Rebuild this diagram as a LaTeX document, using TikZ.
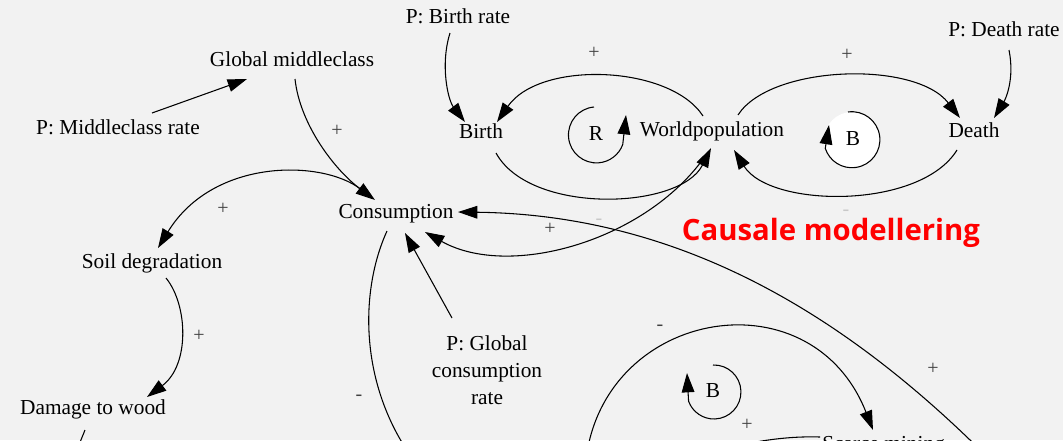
\documentclass[tikz,border=0pt]{standalone}
\usepackage{fontspec}
\setmainfont{Liberation Serif}
\newfontfamily\titlefont{Open Sans}
\usetikzlibrary{arrows.meta,calc}
\definecolor{bg}{HTML}{F2F2F2}
\definecolor{lbl}{HTML}{404040}
\definecolor{faint}{HTML}{C8C8C8}
\begin{document}
\begin{tikzpicture}[x=0.75pt,y=-0.75pt,
  lab/.style={font=\fontsize{16}{19}\selectfont, inner sep=1pt, text height=10.5pt, text depth=3pt},
  multilab/.style={font=\fontsize{16}{20.25}\selectfont, inner sep=1pt, align=center},
  conn/.style={line width=0.8pt, -{Triangle[length=14.5pt,width=9.5pt]}},
  plainline/.style={line width=0.8pt},
  sign/.style={text=lbl, font=\fontsize{15}{17}\selectfont, inner sep=0pt},
  faintsign/.style={text=faint, font=\fontsize{15}{17}\selectfont, inner sep=0pt}]
\useasboundingbox (0,0) rectangle (1063,440);
\clip (0,0) rectangle (1063,440);
\fill[bg] (0,0) rectangle (1063,440);

% nodes
\node[lab] (pbr) at (458,18) {P: Birth rate};
\node[lab] (gm) at (292,61) {Global middleclass};
\node[lab] (pmr) at (118,129) {P: Middleclass rate};
\node[lab] (birth) at (481,133) {Birth};
\node[lab] (wp) at (712,131) {Worldpopulation};
\node[lab] (death) at (974,132) {Death};
\node[lab] (pdr) at (1004,31) {P: Death rate};
\node[lab] (cons) at (396,213) {Consumption};
\node[lab] (soil) at (152,263) {Soil degradation};
\node[lab] (dmg) at (93,409) {Damage to wood};
\node[multilab] (pgc) at (487,370) {P: Global\\consumption\\rate};
\node[lab, anchor=base west, inner sep=0pt] (scar) at (822,450) {Scarce mining};
\node[font=\titlefont\bfseries\fontsize{22}{26}\selectfont, text=red, anchor=base, inner sep=0pt] (title) at (831,240) {Causale modellering};

% loop markers
\fill[white] (852,140) circle[radius=21pt];
\node[lab] (rl) at (596,135) {R};
\node[lab] (bl1) at (853,140) {B};
\node[lab] (bl2) at (713,392) {B};

\coordinate (dmgout) at (72,462);
\coordinate (consout) at (415,462);
\coordinate (longin) at (1005,475);
\coordinate (arcin) at (585,470);
\coordinate (scarout) at (700,456);

% connectors
\draw[conn] ($(pmr)+(34,-16)$) -- ($(gm)+(-45,18)$);
\draw[conn] ($(gm)+(3,18)$) .. controls (300,125) and (335,170) .. ($(cons)+(-21,-13)$);
\draw[conn] ($(cons)+(-32,-21)$) .. controls (330,160) and (215,155) .. ($(soil)+(6,-15)$);
\draw[conn] ($(soil)+(14,15)$) .. controls (188,305) and (190,365) .. ($(dmg)+(54,-12)$);
\draw[plainline] ($(dmg)+(-8,21)$) -- (dmgout);
\draw[conn] ($(pbr)+(-8,15)$) .. controls (440,65) and (448,100) .. ($(birth)+(-16,-11)$);
\draw[conn] ($(wp)+(-9,-15)$) .. controls (670,65) and (540,60) .. ($(birth)+(16,-11)$);
\draw[conn] ($(birth)+(15,20)$) .. controls (530,215) and (680,210) .. ($(wp)+(-1,17)$);
\draw[conn] ($(wp)+(26,-16)$) .. controls (770,65) and (915,60) .. ($(death)+(-14,-14)$);
\draw[conn] ($(pdr)+(5,19)$) .. controls (1015,80) and (1005,100) .. ($(death)+(20,-14)$);
\draw[conn] ($(death)+(-17,18)$) .. controls (920,210) and (770,208) .. ($(wp)+(22,19)$);
\draw[conn] ($(wp)+(-4,21)$) .. controls (650,240) and (510,280) .. ($(cons)+(29,19)$);
\draw[conn] (longin) .. controls (870,335) and (700,215) .. ($(cons)+(62,-1)$);
\draw[conn] ($(pgc)+(-35,-52)$) -- ($(cons)+(9,20)$);
\draw[plainline] ($(cons)+(-9,18)$) .. controls (360,290) and (358,385) .. (consout);
\draw[conn] (arcin) .. controls (595,310) and (810,270) .. ($(scar.base west)+(51,-20)$);
\draw[plainline] ($(scar.base west)+(-2,-13)$) .. controls (790,436) and (750,440) .. (scarout);

% loop arrows
\draw[conn] ($(rl)+(-2,-28)$) arc[start angle=95, end angle=340, radius=21pt] -- ($(rl)+(30,-20)$);
\draw[conn] ($(bl1)+(-5,-28)$) arc[start angle=98, end angle=-162, radius=21pt] -- ($(bl1)+(-24,-15)$);
\draw[conn] ($(bl2)+(0,-27)$) arc[start angle=92, end angle=-160, radius=20.25pt] -- ($(bl2)+(-26,-19)$);

% signs
\node[sign] (s1) at (594,53) {+};
\node[sign] (s2) at (847,55) {+};
\node[sign] (s3) at (337,131) {+};
\node[sign] (s4) at (223,209) {+};
\node[sign] (s5) at (550,229) {+};
\node[sign] (s6) at (199,336) {+};
\node[sign] (s7) at (933,369) {+};
\node[sign] (s8) at (747,425) {+};
\node[sign] (m1) at (359,398) {-};
\node[sign] (m2) at (660,328) {-};
\node[faintsign] (m3) at (846,213) {-};
\node[faintsign] (m4) at (599,222) {-};
\end{tikzpicture}
\end{document}
